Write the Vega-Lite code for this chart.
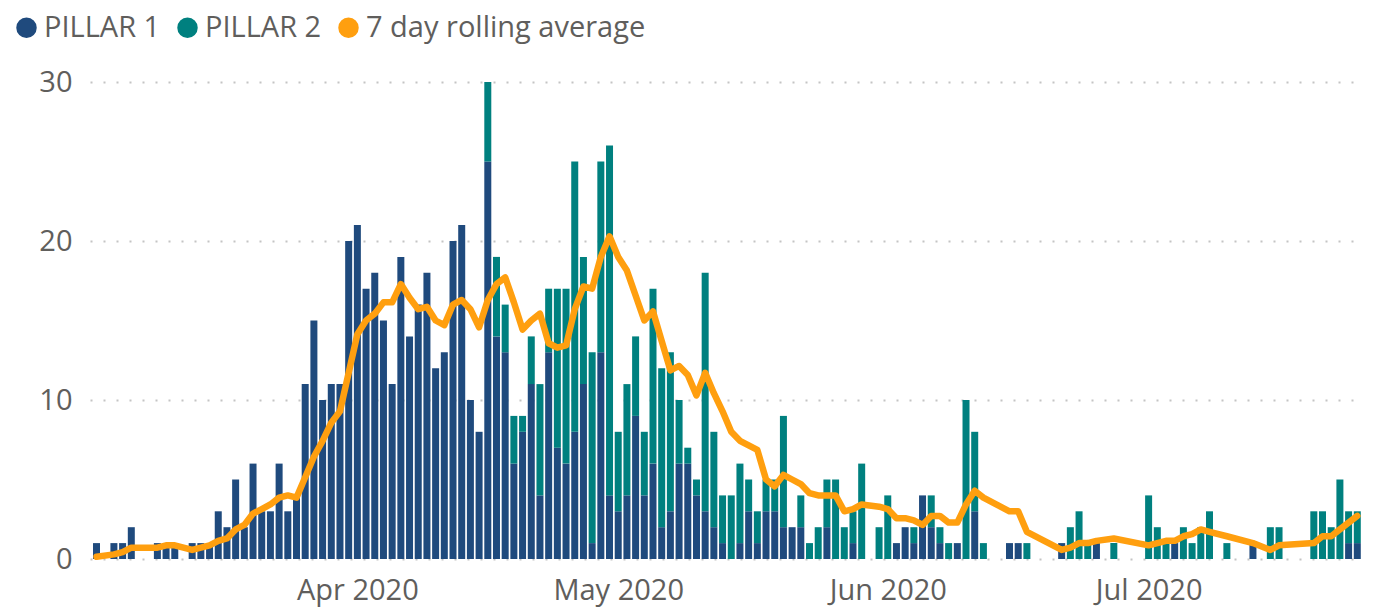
{
  "$schema": "https://vega.github.io/schema/vega-lite/v6.json",
  "width": 1272,
  "height": 477,
  "autosize": "none",
  "padding": {"left": 90, "top": 82, "right": 13, "bottom": 48},
  "background": "white",
  "config": {"view": {"stroke": null}, "font": "Open Sans"},
  "datasets": {
    "bars": [
      {"d":"2020-03-02","s":"PILLAR 1","v":1},{"d":"2020-03-04","s":"PILLAR 1","v":1},{"d":"2020-03-05","s":"PILLAR 1","v":1},{"d":"2020-03-06","s":"PILLAR 1","v":2},
      {"d":"2020-03-09","s":"PILLAR 1","v":1},{"d":"2020-03-10","s":"PILLAR 1","v":1},{"d":"2020-03-11","s":"PILLAR 1","v":1},{"d":"2020-03-13","s":"PILLAR 1","v":1},
      {"d":"2020-03-14","s":"PILLAR 1","v":1},{"d":"2020-03-15","s":"PILLAR 1","v":1},{"d":"2020-03-16","s":"PILLAR 1","v":3},{"d":"2020-03-17","s":"PILLAR 1","v":2},
      {"d":"2020-03-18","s":"PILLAR 1","v":5},{"d":"2020-03-19","s":"PILLAR 1","v":2},{"d":"2020-03-20","s":"PILLAR 1","v":6},{"d":"2020-03-21","s":"PILLAR 1","v":3},
      {"d":"2020-03-22","s":"PILLAR 1","v":3},{"d":"2020-03-23","s":"PILLAR 1","v":6},{"d":"2020-03-24","s":"PILLAR 1","v":3},{"d":"2020-03-25","s":"PILLAR 1","v":4},
      {"d":"2020-03-26","s":"PILLAR 1","v":11},{"d":"2020-03-27","s":"PILLAR 1","v":15},{"d":"2020-03-28","s":"PILLAR 1","v":10},{"d":"2020-03-29","s":"PILLAR 1","v":11},
      {"d":"2020-03-30","s":"PILLAR 1","v":11},{"d":"2020-03-31","s":"PILLAR 1","v":20},{"d":"2020-04-01","s":"PILLAR 1","v":21},{"d":"2020-04-02","s":"PILLAR 1","v":17},
      {"d":"2020-04-03","s":"PILLAR 1","v":18},{"d":"2020-04-04","s":"PILLAR 1","v":15},{"d":"2020-04-05","s":"PILLAR 1","v":11},{"d":"2020-04-06","s":"PILLAR 1","v":19},
      {"d":"2020-04-07","s":"PILLAR 1","v":14},{"d":"2020-04-08","s":"PILLAR 1","v":16},{"d":"2020-04-09","s":"PILLAR 1","v":18},{"d":"2020-04-10","s":"PILLAR 1","v":12},
      {"d":"2020-04-11","s":"PILLAR 1","v":13},{"d":"2020-04-12","s":"PILLAR 1","v":20},{"d":"2020-04-13","s":"PILLAR 1","v":21},{"d":"2020-04-14","s":"PILLAR 1","v":10},
      {"d":"2020-04-15","s":"PILLAR 1","v":8},{"d":"2020-04-16","s":"PILLAR 1","v":25},{"d":"2020-04-17","s":"PILLAR 1","v":14},{"d":"2020-04-18","s":"PILLAR 1","v":13},
      {"d":"2020-04-19","s":"PILLAR 1","v":6},{"d":"2020-04-20","s":"PILLAR 1","v":8},{"d":"2020-04-21","s":"PILLAR 1","v":11},{"d":"2020-04-22","s":"PILLAR 1","v":4},
      {"d":"2020-04-23","s":"PILLAR 1","v":13},{"d":"2020-04-24","s":"PILLAR 1","v":7},{"d":"2020-04-25","s":"PILLAR 1","v":6},{"d":"2020-04-26","s":"PILLAR 1","v":8},
      {"d":"2020-04-27","s":"PILLAR 1","v":11},{"d":"2020-04-28","s":"PILLAR 1","v":1},{"d":"2020-04-29","s":"PILLAR 1","v":13},{"d":"2020-04-30","s":"PILLAR 1","v":4},
      {"d":"2020-05-01","s":"PILLAR 1","v":3},{"d":"2020-05-02","s":"PILLAR 1","v":4},{"d":"2020-05-03","s":"PILLAR 1","v":9},{"d":"2020-05-04","s":"PILLAR 1","v":4},
      {"d":"2020-05-05","s":"PILLAR 1","v":6},{"d":"2020-05-06","s":"PILLAR 1","v":2},{"d":"2020-05-07","s":"PILLAR 1","v":3},{"d":"2020-05-08","s":"PILLAR 1","v":6},
      {"d":"2020-05-09","s":"PILLAR 1","v":6},{"d":"2020-05-10","s":"PILLAR 1","v":4},{"d":"2020-05-11","s":"PILLAR 1","v":3},{"d":"2020-05-12","s":"PILLAR 1","v":2},
      {"d":"2020-05-13","s":"PILLAR 1","v":1},{"d":"2020-05-15","s":"PILLAR 1","v":1},{"d":"2020-05-16","s":"PILLAR 1","v":3},{"d":"2020-05-17","s":"PILLAR 1","v":1},
      {"d":"2020-05-18","s":"PILLAR 1","v":3},{"d":"2020-05-19","s":"PILLAR 1","v":3},{"d":"2020-05-20","s":"PILLAR 1","v":2},{"d":"2020-05-21","s":"PILLAR 1","v":2},
      {"d":"2020-05-22","s":"PILLAR 1","v":2},{"d":"2020-05-25","s":"PILLAR 1","v":2},{"d":"2020-05-28","s":"PILLAR 1","v":1},{"d":"2020-06-02","s":"PILLAR 1","v":1},
      {"d":"2020-06-03","s":"PILLAR 1","v":2},{"d":"2020-06-04","s":"PILLAR 1","v":1},{"d":"2020-06-05","s":"PILLAR 1","v":4},{"d":"2020-06-06","s":"PILLAR 1","v":2},
      {"d":"2020-06-07","s":"PILLAR 1","v":1},{"d":"2020-06-09","s":"PILLAR 1","v":1},{"d":"2020-06-11","s":"PILLAR 1","v":3},{"d":"2020-06-15","s":"PILLAR 1","v":1},
      {"d":"2020-06-16","s":"PILLAR 1","v":1},{"d":"2020-06-21","s":"PILLAR 1","v":1},{"d":"2020-06-25","s":"PILLAR 1","v":1},{"d":"2020-07-04","s":"PILLAR 1","v":1},
      {"d":"2020-07-13","s":"PILLAR 1","v":1},{"d":"2020-07-24","s":"PILLAR 1","v":1},{"d":"2020-07-25","s":"PILLAR 1","v":1},
      {"d":"2020-04-16","s":"PILLAR 2","v":5},{"d":"2020-04-17","s":"PILLAR 2","v":5},{"d":"2020-04-18","s":"PILLAR 2","v":3},{"d":"2020-04-19","s":"PILLAR 2","v":3},
      {"d":"2020-04-20","s":"PILLAR 2","v":1},{"d":"2020-04-21","s":"PILLAR 2","v":3},{"d":"2020-04-22","s":"PILLAR 2","v":7},{"d":"2020-04-23","s":"PILLAR 2","v":4},
      {"d":"2020-04-24","s":"PILLAR 2","v":10},{"d":"2020-04-25","s":"PILLAR 2","v":11},{"d":"2020-04-26","s":"PILLAR 2","v":17},{"d":"2020-04-27","s":"PILLAR 2","v":8},
      {"d":"2020-04-28","s":"PILLAR 2","v":12},{"d":"2020-04-29","s":"PILLAR 2","v":12},{"d":"2020-04-30","s":"PILLAR 2","v":22},{"d":"2020-05-01","s":"PILLAR 2","v":5},
      {"d":"2020-05-02","s":"PILLAR 2","v":7},{"d":"2020-05-03","s":"PILLAR 2","v":5},{"d":"2020-05-04","s":"PILLAR 2","v":4},{"d":"2020-05-05","s":"PILLAR 2","v":11},
      {"d":"2020-05-06","s":"PILLAR 2","v":10},{"d":"2020-05-07","s":"PILLAR 2","v":10},{"d":"2020-05-08","s":"PILLAR 2","v":4},{"d":"2020-05-09","s":"PILLAR 2","v":1},
      {"d":"2020-05-10","s":"PILLAR 2","v":1},{"d":"2020-05-11","s":"PILLAR 2","v":15},{"d":"2020-05-12","s":"PILLAR 2","v":6},{"d":"2020-05-13","s":"PILLAR 2","v":3},
      {"d":"2020-05-14","s":"PILLAR 2","v":4},{"d":"2020-05-15","s":"PILLAR 2","v":5},{"d":"2020-05-16","s":"PILLAR 2","v":2},{"d":"2020-05-17","s":"PILLAR 2","v":2},
      {"d":"2020-05-18","s":"PILLAR 2","v":2},{"d":"2020-05-19","s":"PILLAR 2","v":2},{"d":"2020-05-20","s":"PILLAR 2","v":7},{"d":"2020-05-22","s":"PILLAR 2","v":2},
      {"d":"2020-05-23","s":"PILLAR 2","v":1},{"d":"2020-05-24","s":"PILLAR 2","v":2},{"d":"2020-05-25","s":"PILLAR 2","v":3},{"d":"2020-05-26","s":"PILLAR 2","v":5},
      {"d":"2020-05-27","s":"PILLAR 2","v":2},{"d":"2020-05-28","s":"PILLAR 2","v":2},{"d":"2020-05-29","s":"PILLAR 2","v":6},{"d":"2020-05-31","s":"PILLAR 2","v":2},
      {"d":"2020-06-01","s":"PILLAR 2","v":4},{"d":"2020-06-04","s":"PILLAR 2","v":1},{"d":"2020-06-06","s":"PILLAR 2","v":2},{"d":"2020-06-07","s":"PILLAR 2","v":1},
      {"d":"2020-06-08","s":"PILLAR 2","v":1},{"d":"2020-06-10","s":"PILLAR 2","v":10},{"d":"2020-06-11","s":"PILLAR 2","v":5},{"d":"2020-06-12","s":"PILLAR 2","v":1},
      {"d":"2020-06-17","s":"PILLAR 2","v":1},{"d":"2020-06-22","s":"PILLAR 2","v":2},{"d":"2020-06-23","s":"PILLAR 2","v":3},{"d":"2020-06-24","s":"PILLAR 2","v":1},
      {"d":"2020-06-27","s":"PILLAR 2","v":1},{"d":"2020-07-01","s":"PILLAR 2","v":4},{"d":"2020-07-02","s":"PILLAR 2","v":2},{"d":"2020-07-03","s":"PILLAR 2","v":1},
      {"d":"2020-07-05","s":"PILLAR 2","v":2},{"d":"2020-07-06","s":"PILLAR 2","v":1},{"d":"2020-07-07","s":"PILLAR 2","v":2},{"d":"2020-07-08","s":"PILLAR 2","v":3},
      {"d":"2020-07-10","s":"PILLAR 2","v":1},{"d":"2020-07-15","s":"PILLAR 2","v":2},{"d":"2020-07-16","s":"PILLAR 2","v":2},{"d":"2020-07-20","s":"PILLAR 2","v":3},
      {"d":"2020-07-21","s":"PILLAR 2","v":3},{"d":"2020-07-22","s":"PILLAR 2","v":2},{"d":"2020-07-23","s":"PILLAR 2","v":5},{"d":"2020-07-24","s":"PILLAR 2","v":2},
      {"d":"2020-07-25","s":"PILLAR 2","v":2}
    ],
    "avg": [
      {"d":"2020-03-02","v":0.14},{"d":"2020-03-04","v":0.29},{"d":"2020-03-05","v":0.43},{"d":"2020-03-06","v":0.71},{"d":"2020-03-09","v":0.71},
      {"d":"2020-03-10","v":0.86},{"d":"2020-03-11","v":0.86},{"d":"2020-03-13","v":0.57},{"d":"2020-03-14","v":0.71},{"d":"2020-03-15","v":0.86},
      {"d":"2020-03-16","v":1.14},{"d":"2020-03-17","v":1.29},{"d":"2020-03-18","v":1.86},{"d":"2020-03-19","v":2.14},{"d":"2020-03-20","v":2.86},
      {"d":"2020-03-21","v":3.14},{"d":"2020-03-22","v":3.43},{"d":"2020-03-23","v":3.86},{"d":"2020-03-24","v":4.0},{"d":"2020-03-25","v":3.86},
      {"d":"2020-03-26","v":5.14},{"d":"2020-03-27","v":6.43},{"d":"2020-03-28","v":7.43},{"d":"2020-03-29","v":8.57},{"d":"2020-03-30","v":9.29},
      {"d":"2020-03-31","v":11.71},{"d":"2020-04-01","v":14.14},{"d":"2020-04-02","v":15.0},{"d":"2020-04-03","v":15.43},{"d":"2020-04-04","v":16.14},
      {"d":"2020-04-05","v":16.14},{"d":"2020-04-06","v":17.29},{"d":"2020-04-07","v":16.43},{"d":"2020-04-08","v":15.71},{"d":"2020-04-09","v":15.86},
      {"d":"2020-04-10","v":15.0},{"d":"2020-04-11","v":14.71},{"d":"2020-04-12","v":16.0},{"d":"2020-04-13","v":16.29},{"d":"2020-04-14","v":15.71},
      {"d":"2020-04-15","v":14.57},{"d":"2020-04-16","v":16.29},{"d":"2020-04-17","v":17.29},{"d":"2020-04-18","v":17.71},{"d":"2020-04-19","v":16.14},
      {"d":"2020-04-20","v":14.43},{"d":"2020-04-21","v":15.0},{"d":"2020-04-22","v":15.43},{"d":"2020-04-23","v":13.57},{"d":"2020-04-24","v":13.29},
      {"d":"2020-04-25","v":13.43},{"d":"2020-04-26","v":15.71},{"d":"2020-04-27","v":17.14},{"d":"2020-04-28","v":17.0},{"d":"2020-04-29","v":19.0},
      {"d":"2020-04-30","v":20.29},{"d":"2020-05-01","v":19.0},{"d":"2020-05-02","v":18.14},{"d":"2020-05-03","v":16.57},{"d":"2020-05-04","v":15.0},
      {"d":"2020-05-05","v":15.57},{"d":"2020-05-06","v":13.71},{"d":"2020-05-07","v":11.86},{"d":"2020-05-08","v":12.14},{"d":"2020-05-09","v":11.57},
      {"d":"2020-05-10","v":10.29},{"d":"2020-05-11","v":11.71},{"d":"2020-05-12","v":10.43},{"d":"2020-05-13","v":9.29},{"d":"2020-05-14","v":8.0},
      {"d":"2020-05-15","v":7.43},{"d":"2020-05-16","v":7.14},{"d":"2020-05-17","v":6.86},{"d":"2020-05-18","v":5.0},{"d":"2020-05-19","v":4.57},
      {"d":"2020-05-20","v":5.29},{"d":"2020-05-21","v":5.0},{"d":"2020-05-22","v":4.71},{"d":"2020-05-23","v":4.14},{"d":"2020-05-24","v":4.0},
      {"d":"2020-05-25","v":4.0},{"d":"2020-05-26","v":4.0},{"d":"2020-05-27","v":3.0},{"d":"2020-05-28","v":3.14},{"d":"2020-05-29","v":3.43},
      {"d":"2020-05-31","v":3.29},{"d":"2020-06-01","v":3.14},{"d":"2020-06-02","v":2.57},{"d":"2020-06-03","v":2.57},{"d":"2020-06-04","v":2.43},
      {"d":"2020-06-05","v":2.14},{"d":"2020-06-06","v":2.71},{"d":"2020-06-07","v":2.71},{"d":"2020-06-08","v":2.29},{"d":"2020-06-09","v":2.29},
      {"d":"2020-06-10","v":3.43},{"d":"2020-06-11","v":4.29},{"d":"2020-06-12","v":3.86},{"d":"2020-06-15","v":3.0},{"d":"2020-06-16","v":3.0},
      {"d":"2020-06-17","v":1.71},{"d":"2020-06-21","v":0.57},{"d":"2020-06-22","v":0.71},{"d":"2020-06-23","v":1.0},{"d":"2020-06-24","v":1.0},
      {"d":"2020-06-25","v":1.14},{"d":"2020-06-27","v":1.29},{"d":"2020-07-01","v":0.86},{"d":"2020-07-02","v":1.0},{"d":"2020-07-03","v":1.14},
      {"d":"2020-07-04","v":1.14},{"d":"2020-07-05","v":1.43},{"d":"2020-07-06","v":1.57},{"d":"2020-07-07","v":1.86},{"d":"2020-07-08","v":1.71},
      {"d":"2020-07-10","v":1.43},{"d":"2020-07-13","v":1.0},{"d":"2020-07-15","v":0.57},{"d":"2020-07-16","v":0.86},{"d":"2020-07-20","v":1.0},
      {"d":"2020-07-21","v":1.43},{"d":"2020-07-22","v":1.43},{"d":"2020-07-23","v":1.86},{"d":"2020-07-24","v":2.29},{"d":"2020-07-25","v":2.71}
    ]
  },
  "layer": [
    {
      "data": {"name": "bars"},
      "mark": {"type": "bar", "width": 7},
      "encoding": {
        "x": {
          "field": "d", "type": "temporal",
          "scale": {"type": "utc", "nice": false, "padding": 0, "domain": [1583042400000, 1595682000000]},
          "axis": {
            "values": [1585699200000, 1588291200000, 1590969600000, 1593561600000],
            "format": "%b %Y", "title": null, "ticks": false, "domain": false, "grid": false,
            "labelFontSize": 29, "labelColor": "#605E5C", "labelPadding": 17, "labelFlush": false, "labelOverlap": false
          }
        },
        "y": {
          "field": "v", "type": "quantitative", "stack": "zero",
          "scale": {"domain": [0, 30], "nice": false},
          "axis": {
            "values": [0, 10, 20, 30], "title": null, "ticks": false, "domain": false, "grid": true,
            "gridDash": [2, 11], "gridColor": "#C4C4C4", "gridWidth": 2,
            "labelFontSize": 29, "labelColor": "#605E5C", "labelPadding": 18
          }
        },
        "color": {
          "field": "s", "type": "nominal",
          "scale": {"domain": ["PILLAR 1", "PILLAR 2", "7 day rolling average"], "range": ["#1F4A7D", "#00807F", "#FF9F0F"]},
          "legend": {
            "title": null, "orient": "none", "legendX": -78, "legendY": -69, "direction": "horizontal",
            "symbolType": "circle", "symbolSize": 420, "symbolStrokeWidth": 0, "symbolOpacity": 1,
            "labelFontSize": 29, "labelColor": "#605E5C", "labelOffset": 3, "columnPadding": 12, "labelLimit": 500
          }
        },
        "order": {"field": "s", "type": "nominal", "sort": "ascending"}
      }
    },
    {
      "data": {"name": "avg"},
      "mark": {"type": "line", "color": "#FF9F0F", "strokeWidth": 6.5, "strokeJoin": "round", "strokeCap": "round"},
      "encoding": {
        "x": {"field": "d", "type": "temporal", "scale": {"type": "utc"}},
        "y": {"field": "v", "type": "quantitative"}
      }
    }
  ]
}
